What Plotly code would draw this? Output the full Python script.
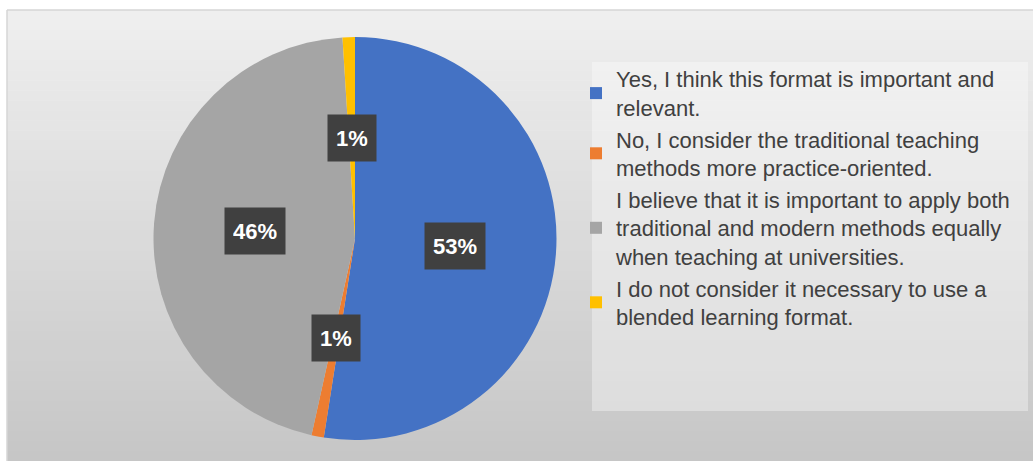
import math
import plotly.graph_objects as go

# ---- data ----
categories = [
    "Yes, I think this format is important and<br>relevant.",
    "No, I consider the traditional teaching<br>methods more practice-oriented.",
    "I believe that it is important to apply both<br>traditional and modern methods equally<br>when teaching at universities.",
    "I do not consider it necessary to use a<br>blended learning format.",
]
values = [53, 1, 46, 1]  # percent
colors = ["#4472C4", "#ED7D31", "#A5A5A5", "#FFC000"]

# ---- layout geometry ----
W, H = 1033, 461
cx, cy, R = 355, 238.5, 201.5

fig = go.Figure()
fig.add_trace(go.Pie(
    labels=categories,
    values=values,
    sort=False,
    direction="clockwise",
    rotation=0,
    marker=dict(colors=colors, line=dict(width=0)),
    textinfo="none",
    hoverinfo="label+value",
    domain=dict(x=[(cx - R) / W, (cx + R) / W], y=[1 - (cy + R) / H, 1 - (cy - R) / H]),
))

# background gradient panel
shapes = []
top, bottom, left = 10, H, 7
nb = 45
c0, c1 = 0xEF, 0xC6
for i in range(nb):
    y0 = top + (bottom - top) * i / nb
    y1 = top + (bottom - top) * (i + 1) / nb + 0.6
    c = round(c0 + (c1 - c0) * (i + 0.5) / nb)
    shapes.append(dict(type="rect", xref="paper", yref="paper", layer="below",
                       x0=left / W, x1=1, y0=1 - y1 / H, y1=1 - y0 / H,
                       fillcolor=f"rgb({c},{c},{c})", line=dict(width=0)))
# panel border (top, left)
shapes.append(dict(type="line", xref="paper", yref="paper", layer="below",
                   x0=left / W, x1=1, y0=1 - top / H, y1=1 - top / H,
                   line=dict(color="#d6d6d6", width=1.5)))
shapes.append(dict(type="line", xref="paper", yref="paper", layer="below",
                   x0=left / W, x1=left / W, y0=0, y1=1 - top / H,
                   line=dict(color="#d6d6d6", width=1.5)))
# legend box
shapes.append(dict(type="rect", xref="paper", yref="paper", layer="below",
                   x0=592 / W, x1=1028 / W, y0=1 - 411 / H, y1=1 - 62 / H,
                   fillcolor="rgba(255,255,255,0.35)", line=dict(width=0)))

# data labels
annotations = []
total = sum(values)
cum = 0
for v in values:
    mid = (cum + v / 2) / total
    th = 2 * math.pi * mid
    px = cx + 0.5 * R * math.sin(th)
    py = cy - 0.5 * R * math.cos(th)
    annotations.append(dict(
        x=px / W, y=1 - py / H, xref="paper", yref="paper",
        text=f"<b>{v}%</b>", showarrow=False,
        font=dict(family="Liberation Sans", size=22, color="white"),
        bgcolor="#404040", borderpad=8, height=30, valign="middle",
        xanchor="center", yanchor="middle",
    ))
    cum += v

fig.update_layout(
    width=W, height=H,
    margin=dict(l=0, r=0, t=0, b=0),
    paper_bgcolor="white",
    plot_bgcolor="white",
    shapes=shapes,
    annotations=annotations,
    showlegend=True,
    legend=dict(
        x=576 / W, xanchor="left", y=1 - 58 / H, yanchor="top",
        bgcolor="rgba(0,0,0,0)",
        font=dict(family="Liberation Sans", size=22, color="#404040"),
        valign="middle", itemwidth=30, tracegroupgap=0,
    ),
)

fig.write_html("out.html")
